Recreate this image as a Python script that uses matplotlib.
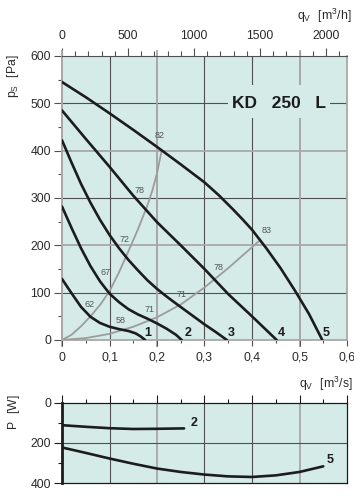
import matplotlib
matplotlib.use('Agg')
import matplotlib.pyplot as plt
import matplotlib.transforms as mtrans
from matplotlib.ticker import MultipleLocator, FixedLocator, FuncFormatter
from matplotlib.patches import Rectangle

plt.rcParams['font.family'] = ['Liberation Sans', 'DejaVu Sans']

# ---------------- data ----------------
# fan curves, static pressure [Pa] vs flow [m3/s]
c1_x = [0, 0.02, 0.04, 0.06, 0.08, 0.10, 0.12, 0.14, 0.155, 0.165, 0.175]
c1_y = [129, 99, 70, 49, 36, 28, 23, 19, 14, 8, 0]
c2_x = [0, 0.02, 0.04, 0.06, 0.08, 0.10, 0.12, 0.14, 0.16, 0.18, 0.20, 0.22, 0.24, 0.252]
c2_y = [282, 237, 194, 156, 124, 98, 80, 65, 54, 45, 35, 24, 11, 0]
c3_x = [0, 0.02, 0.04, 0.06, 0.08, 0.10, 0.12, 0.14, 0.16, 0.18, 0.20, 0.22, 0.24,
        0.27, 0.30, 0.325, 0.347]
c3_y = [422, 375, 330, 290, 254, 222, 194, 169, 147, 126, 108, 92, 77,
        55, 33, 16, 0]
c4_x = [0, 0.05, 0.10, 0.15, 0.20, 0.25, 0.30, 0.35, 0.40, 0.452]
c4_y = [485, 425, 366, 305, 249, 200, 150, 97, 50, 0]
c5_x = [0, 0.05, 0.10, 0.15, 0.20, 0.25, 0.30, 0.33, 0.36, 0.38, 0.40, 0.43, 0.46,
        0.49, 0.52, 0.548]
c5_y = [545, 513, 479, 444, 408, 371, 333, 306, 276, 255, 233, 194, 152,
        105, 55, 0]
curve_names = ['1', '2', '3', '4', '5']
curve_label_x = [0.180, 0.266, 0.356, 0.462, 0.557]
curve_label_y = [15, 14, 14, 14, 14]

# efficiency lines
ga_x = [0, 0.02, 0.04, 0.06, 0.08, 0.10, 0.12, 0.14, 0.16, 0.18, 0.19, 0.20, 0.21]
ga_y = [0, 11, 29, 50, 74, 103, 143, 188, 234, 285, 315, 352, 401]
gb_x = [0, 0.05, 0.10, 0.15, 0.20, 0.25, 0.30, 0.35, 0.40, 0.417]
gb_y = [0, 4, 13, 28, 48, 75, 111, 152, 196, 211]
eff_text = ['62', '67', '72', '78', '82', '58', '71', '71', '78', '83']
eff_x = [0.058, 0.092, 0.131, 0.164, 0.205, 0.124, 0.185, 0.252, 0.329, 0.431]
eff_y = [76, 142, 213, 315, 431, 42, 65, 97, 154, 232]

# power curves [W]
p2_x = [0, 0.05, 0.10, 0.15, 0.20, 0.257]
p2_y = [112, 120, 127, 131, 130, 128]
p5_x = [0, 0.05, 0.10, 0.15, 0.20, 0.25, 0.30, 0.35, 0.40, 0.45, 0.50, 0.55]
p5_y = [223, 250, 278, 304, 328, 345, 358, 367, 370, 362, 345, 317]
p_label = ['2', '5']
p_label_x = [0.277, 0.564]
p_label_y = [103, 287]

x_ticks = [0, 0.1, 0.2, 0.3, 0.4, 0.5, 0.6]
y_ticks = [0, 100, 200, 300, 400, 500, 600]
gray_x = [0, 0.2, 0.5]
gray_y = [200, 400]
top_ticks = [0, 500, 1000, 1500, 2000]
p_ticks = [0, 200, 400]

title = 'KD   250   L'

# ---------------- style ----------------
BG = '#d5ebe8'
DARK = '#505050'
GRAY = '#a8a8a8'
INK = '#1c1c1c'
TXT = '#2a2a2a'
GLW = 1.3
FS = 8.8

W, H = 354, 500
fig = plt.figure(figsize=(W / 100, H / 100), dpi=100)

def fx(px):
    return px / W

def fy(py):
    return 1 - py / H

# ---------------- main chart ----------------
ax = fig.add_axes([fx(62), fy(340), (347 - 62) / W, (340 - 56) / H])
ax.set_xlim(0, 0.6)
ax.set_ylim(0, 600)
ax.set_facecolor(BG)

for xv in x_ticks[1:-1]:
    if xv in gray_x:
        ax.axvline(xv, color=GRAY, lw=GLW, zorder=1)
    else:
        ax.axvline(xv, color=DARK, lw=0.8, zorder=1)
for yv in y_ticks[1:-1]:
    if yv in gray_y:
        ax.axhline(yv, color=GRAY, lw=GLW, zorder=1)
    else:
        ax.axhline(yv, color=DARK, lw=0.8, zorder=1)

# gray lines running slightly past the frame
bt = mtrans.blended_transform_factory(ax.transData, ax.transAxes)
for xv in gray_x:
    ax.plot([xv, xv], [-0.025, 1.02], transform=bt, color=GRAY, lw=GLW,
            clip_on=False, zorder=1.5, solid_capstyle='butt')

for s in ['left', 'bottom', 'right']:
    ax.spines[s].set_color(GRAY)
    ax.spines[s].set_linewidth(GLW)
ax.spines['top'].set_color(DARK)
ax.spines['top'].set_linewidth(0.8)

# title box
ax.add_patch(Rectangle((0.349, 469), 0.215, 70, facecolor=BG, edgecolor='none', zorder=2))
ax.text(0.457, 500, title, fontsize=12.5, fontweight='bold', color=INK,
        ha='center', va='center', zorder=3)

# efficiency lines
ax.plot(ga_x, ga_y, color='#9c9c9c', lw=1.3, zorder=3, solid_capstyle='round')
ax.plot(gb_x, gb_y, color='#9c9c9c', lw=1.3, zorder=3, solid_capstyle='round')
for t, xx, yy in zip(eff_text, eff_x, eff_y):
    ax.text(xx, yy, t, fontsize=6.5, color='#555555', ha='center', va='center', zorder=4)

# fan curves
for cx, cy in [(c1_x, c1_y), (c2_x, c2_y), (c3_x, c3_y), (c4_x, c4_y), (c5_x, c5_y)]:
    ax.plot(cx, cy, color=INK, lw=1.9, zorder=5, solid_capstyle='round', solid_joinstyle='round')
for n, xx, yy in zip(curve_names, curve_label_x, curve_label_y):
    ax.text(xx, yy, n, fontsize=9, fontweight='bold', color=INK, ha='center', va='center', zorder=6)

ax.xaxis.set_major_locator(FixedLocator(x_ticks))
ax.xaxis.set_minor_locator(MultipleLocator(0.05))
ax.yaxis.set_major_locator(FixedLocator(y_ticks))
ax.yaxis.set_minor_locator(MultipleLocator(50))
ax.xaxis.set_major_formatter(FuncFormatter(lambda v, p: '0' if abs(v) < 1e-9 else f'{v:.1f}'.replace('.', ',')))
ax.tick_params(axis='x', which='major', direction='out', length=4.5, width=0.8, color=DARK,
               labelsize=FS, labelcolor=TXT, pad=4)
ax.tick_params(axis='x', which='minor', direction='out', length=2.5, width=0.8, color=DARK)
ax.tick_params(axis='y', which='major', direction='out', length=6, width=0.8, color=DARK,
               labelsize=FS, labelcolor=TXT, pad=2)
ax.tick_params(axis='y', which='minor', direction='out', length=3, width=0.8, color=DARK)

# top axis in m3/h
top = ax.secondary_xaxis('top', functions=(lambda q: q * 3600, lambda q: q / 3600))
top.xaxis.set_major_locator(FixedLocator(top_ticks))
top.xaxis.set_minor_locator(MultipleLocator(100))
top.tick_params(axis='x', which='major', direction='out', length=6, width=0.8, color=DARK,
                labelsize=FS, labelcolor=TXT, pad=4)
top.tick_params(axis='x', which='minor', direction='out', length=3.5, width=0.8, color=DARK)
top.spines['top'].set_visible(False)

fig.text(fx(352), fy(16), r'$\mathregular{q_V\ \ [m^3/h]}$', fontsize=FS, color=TXT,
         ha='right', va='center')
fig.text(fx(353), fy(384), r'$\mathregular{q_V\ \ [m^3/s]}$', fontsize=FS, color=TXT,
         ha='right', va='center')
fig.text(fx(13), fy(76), r'$\mathregular{p_S\ \ [Pa]}$', fontsize=FS, color=TXT,
         ha='center', va='center', rotation=90)
fig.text(fx(14), fy(412), r'$\mathregular{P\ \ [W]}$', fontsize=FS, color=TXT,
         ha='center', va='center', rotation=90)

# ---------------- power chart ----------------
bx = fig.add_axes([fx(62), fy(483), (347 - 62) / W, (483 - 402.7) / H])
bx.set_xlim(0, 0.6)
bx.set_ylim(400, 0)
bx.set_facecolor(BG)
for xv in x_ticks[1:-1]:
    if xv in gray_x:
        bx.axvline(xv, color=GRAY, lw=GLW, zorder=1)
    else:
        bx.axvline(xv, color=DARK, lw=0.8, zorder=1)
bx.axhline(200, color=DARK, lw=0.8, zorder=1)
for s in ['top', 'bottom', 'right']:
    bx.spines[s].set_color(INK)
    bx.spines[s].set_linewidth(0.9)
bx.spines['left'].set_color(INK)
bx.spines['left'].set_linewidth(2)

bx.plot(p2_x, p2_y, color=INK, lw=1.9, zorder=5, solid_capstyle='round')
bx.plot(p5_x, p5_y, color=INK, lw=1.9, zorder=5, solid_capstyle='round')
for n, xx, yy in zip(p_label, p_label_x, p_label_y):
    bx.text(xx, yy, n, fontsize=9, fontweight='bold', color=INK, ha='center', va='center', zorder=6)

bx.xaxis.tick_top()
bx.xaxis.set_major_locator(FixedLocator(x_ticks))
bx.xaxis.set_minor_locator(MultipleLocator(0.05))
bx.tick_params(axis='x', which='major', direction='out', length=6, width=0.8, color=INK,
               labeltop=False, labelbottom=False)
bx.tick_params(axis='x', which='minor', direction='out', length=3, width=0.8, color=INK)
bx.yaxis.set_major_locator(FixedLocator(p_ticks))
bx.yaxis.set_minor_locator(MultipleLocator(100))
bx.tick_params(axis='y', which='major', direction='out', length=6, width=0.8, color=INK,
               labelsize=FS, labelcolor=TXT, pad=2)
bx.tick_params(axis='y', which='minor', direction='out', length=3, width=0.8, color=INK)

fig.savefig('out.png', dpi=100)
